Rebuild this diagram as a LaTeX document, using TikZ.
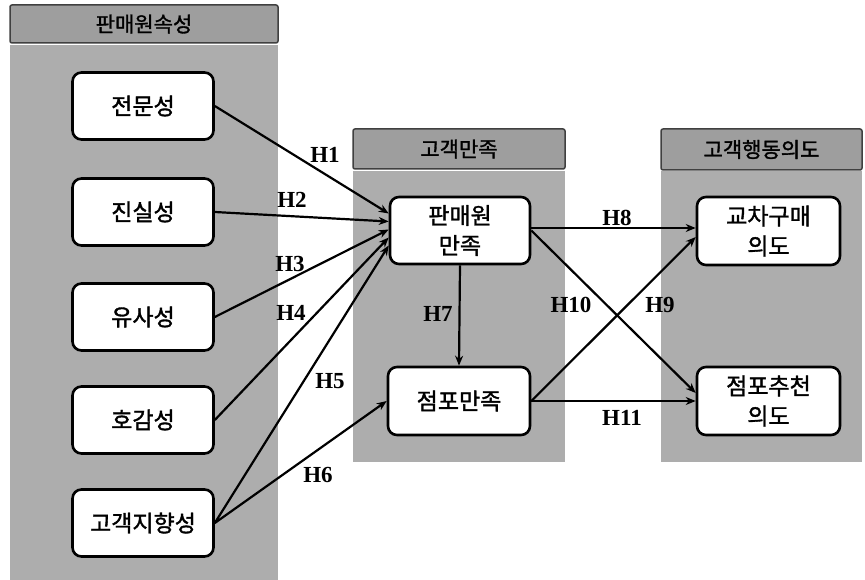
\documentclass[tikz,border=0pt]{standalone}
\usepackage{fontspec}
\setmainfont{Liberation Serif}
\newfontfamily\kr[FakeBold=1.5]{Noto Sans CJK KR}
\usetikzlibrary{arrows.meta}
\definecolor{panelgray}{gray}{0.68}
\definecolor{headgray}{gray}{0.62}
\begin{document}
\begin{tikzpicture}[x=1pt,y=-1pt,
  panel/.style={fill=panelgray, draw=none},
  header/.style={fill=headgray, draw=black!75, line width=1.5pt, rounded corners=2pt, font=\kr\fontsize{21}{23}\selectfont},
  box/.style={draw=black, line width=2.6pt, fill=white, rounded corners=9pt, minimum width=141pt, minimum height=67pt, align=center, font=\kr\fontsize{23}{30}\selectfont},
  link/.style={line width=2.2pt, -{Stealth[length=10pt,width=8pt]}},
  hl/.style={font=\bfseries\fontsize{23}{25}\selectfont, inner sep=1pt}]
\useasboundingbox (0,0) rectangle (865,580);
\fill[white] (0,0) rectangle (865,580);
% panels
\path[panel] (10,45) rectangle (278,580);
\path[panel] (353,171) rectangle (565,462);
\path[panel] (661,171) rectangle (862,462);
% headers
\node[header, minimum width=268pt, minimum height=38pt] (h1) at (144,24) {판매원속성};
\node[header, minimum width=212pt, minimum height=40pt] (h2) at (459,149) {고객만족};
\node[header, minimum width=201pt, minimum height=41pt] (h3) at (761.5,149.5) {고객행동의도};
% left boxes
\node[box] (a1) at (143,106) {전문성};
\node[box] (a2) at (143,212) {진실성};
\node[box] (a3) at (143,317) {유사성};
\node[box] (a4) at (143,420) {호감성};
\node[box] (a5) at (143,523) {고객지향성};
% middle
\node[box, minimum width=140pt] (s) at (460,230.5) {판매원\\만족};
\node[box, minimum width=142pt, minimum height=68pt] (t) at (459,401) {점포만족};
% right
\node[box, minimum width=143pt, minimum height=68pt] (c) at (768.5,231) {교차구매\\의도};
\node[box, minimum width=143pt, minimum height=68pt] (r) at (768.5,401) {점포추천\\의도};
% links
\draw[link] (a1.east) -- ([yshift=17pt]s.west);
\draw[link] (a2.east) -- ([yshift=9pt]s.west);
\draw[link] (a3.east) -- ([yshift=1pt]s.west);
\draw[link] (a4.east) -- ([yshift=-7pt]s.west);
\draw[link] (a5.east) -- ([yshift=-15pt]s.west);
\draw[link] (a5.east) -- (t.west);
\draw[link] (s.south) -- (t.north);
\draw[link] ([yshift=2.5pt]s.east) -- ([yshift=3pt]c.west);
\draw[link] (s.east) -- ([yshift=8pt]r.west);
\draw[link] (t.east) -- ([yshift=-6pt]c.west);
\draw[link] (t.east) -- (r.west);
% labels
\node[hl] (l1) at (325,155) {H1};
\node[hl] (l2) at (292,200) {H2};
\node[hl] (l3) at (290,264) {H3};
\node[hl] (l4) at (291,313) {H4};
\node[hl] (l5) at (330,381) {H5};
\node[hl] (l6) at (318,475) {H6};
\node[hl] (l7) at (438,314) {H7};
\node[hl] (l8) at (617,218) {H8};
\node[hl] (l9) at (660,305) {H9};
\node[hl] (l10) at (571,305) {H10};
\node[hl] (l11) at (622,418) {H11};
\end{tikzpicture}
\end{document}
